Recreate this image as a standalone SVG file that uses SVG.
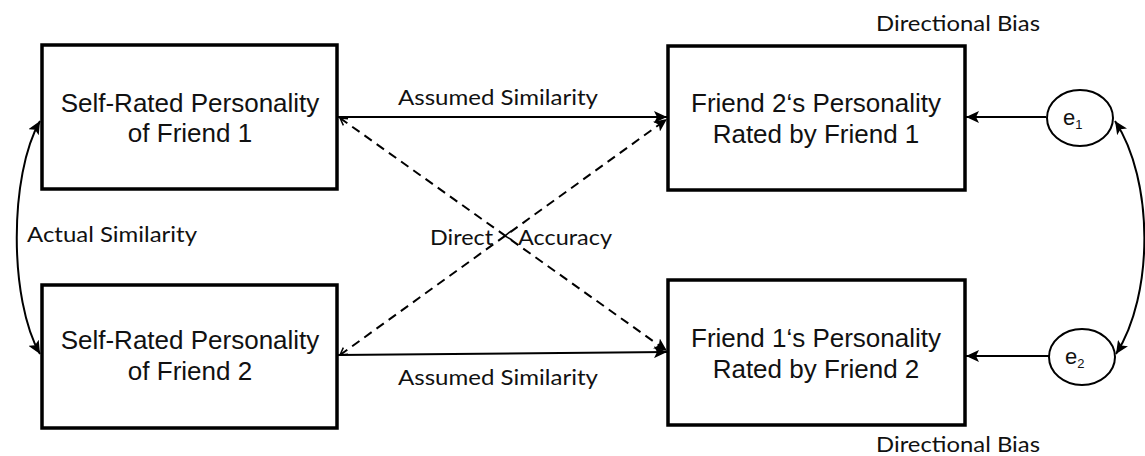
<svg xmlns="http://www.w3.org/2000/svg" width="1145" height="456" viewBox="0 0 1145 456">
<style>
.box{fill:#fff;stroke:#000;stroke-width:3.5}
.bt{font-family:"Liberation Sans",Arial,sans-serif;font-size:26px;fill:#111;text-anchor:middle}
.lb{font-family:Lato,"Open Sans",sans-serif;font-size:22px;fill:#111}
.ln{fill:none;stroke:#000;stroke-width:2}
.dsh{fill:none;stroke:#000;stroke-width:2;stroke-dasharray:9 6}
.ell{fill:#fff;stroke:#000;stroke-width:2}
.et{font-family:"Liberation Sans",Arial,sans-serif;font-size:22px;fill:#111}
</style>
<defs>
<marker id="ah" markerUnits="userSpaceOnUse" markerWidth="14" markerHeight="12" refX="13" refY="6" orient="auto-start-reverse">
<path d="M0,0 L13,6 L0,12 L3,6 Z" fill="#000"/>
</marker>
<marker id="sm" markerUnits="userSpaceOnUse" markerWidth="10" markerHeight="10" refX="1" refY="5" orient="auto">
<path d="M8,1 L1,5 L8,9" fill="none" stroke="#000" stroke-width="1.5"/>
</marker>
</defs>

<g id="connectors">
<path class="ln" d="M338,117 L667,117" marker-end="url(#ah)"/>
<path class="ln" d="M338,355 L667,352" marker-end="url(#ah)"/>
<path class="dsh" d="M340,118 L667,351" marker-end="url(#ah)" marker-start="url(#sm)"/>
<path class="dsh" d="M340,355 L667,119" marker-end="url(#ah)" marker-start="url(#sm)"/>
<path d="M511,231 L505,236 L512,240" fill="none" stroke="#000" stroke-width="1.5"/>
<path class="ln" d="M1046,117 L966,117" marker-end="url(#ah)"/>
<path class="ln" d="M1049,356 L966,356" marker-end="url(#ah)"/>
<path class="ln" d="M40,121 C9,175 9,300 40,354" marker-start="url(#ah)" marker-end="url(#ah)"/>
<path class="ln" d="M1115,121 C1154,180 1154,295 1116,354" marker-start="url(#ah)" marker-end="url(#ah)"/>
</g>

<g id="self1">
<rect class="box" x="42" y="45" width="295" height="144"/>
<text class="bt" x="190" y="112">Self-Rated Personality</text>
<text class="bt" x="190" y="142">of Friend 1</text>
</g>
<g id="self2">
<rect class="box" x="42" y="285" width="295" height="143"/>
<text class="bt" x="190" y="349">Self-Rated Personality</text>
<text class="bt" x="190" y="380">of Friend 2</text>
</g>
<g id="rated21">
<rect class="box" x="668" y="46" width="297" height="144"/>
<text class="bt" x="816" y="112">Friend 2‘s Personality</text>
<text class="bt" x="816" y="143">Rated by Friend 1</text>
</g>
<g id="rated12">
<rect class="box" x="668" y="280" width="297" height="145"/>
<text class="bt" x="816" y="347">Friend 1‘s Personality</text>
<text class="bt" x="816" y="378">Rated by Friend 2</text>
</g>
<g id="e1">
<ellipse class="ell" cx="1080" cy="118" rx="33" ry="28"/>
<text class="et" x="1063" y="125">e<tspan font-size="13" dy="4">1</tspan></text>
</g>
<g id="e2">
<ellipse class="ell" cx="1082" cy="357" rx="33" ry="28"/>
<text class="et" x="1065" y="364">e<tspan font-size="13" dy="4">2</tspan></text>
</g>

<g id="labels">
<text class="lb" x="876" y="31" textLength="164" lengthAdjust="spacingAndGlyphs">Directional Bias</text>
<text class="lb" x="876" y="452" textLength="164" lengthAdjust="spacingAndGlyphs">Directional Bias</text>
<text class="lb" x="27" y="242" textLength="170" lengthAdjust="spacingAndGlyphs">Actual Similarity</text>
<text class="lb" x="398" y="105" textLength="200" lengthAdjust="spacingAndGlyphs">Assumed Similarity</text>
<text class="lb" x="398" y="385" textLength="200" lengthAdjust="spacingAndGlyphs">Assumed Similarity</text>
<text class="lb" x="430" y="245" textLength="63" lengthAdjust="spacingAndGlyphs">Direct</text>
<text class="lb" x="518" y="245" textLength="94" lengthAdjust="spacingAndGlyphs">Accuracy</text>
</g>
</svg>
